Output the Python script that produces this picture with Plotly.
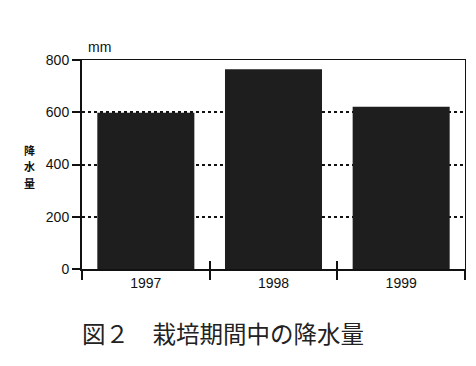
import plotly.graph_objects as go

years = ["1997", "1998", "1999"]
rain_mm = [598, 765, 621]
y_ticks = [0, 200, 400, 600, 800]
grid_vals = [200, 400, 600]
y_title_chars = ["降", "水", "量"]

W, H = 476, 366
L, R, T, B = 82, 11, 60, 97
PW, PH = W - L - R, H - T - B

fig = go.Figure()
fig.add_trace(go.Bar(x=years, y=rain_mm, marker=dict(color="#1e1e1e", line=dict(width=0)),
                     showlegend=False, hoverinfo="skip"))

font = dict(family="Liberation Sans, Arial, sans-serif", color="#111", size=14)

fig.update_layout(
    width=W, height=H, margin=dict(l=L, r=R, t=T, b=B),
    paper_bgcolor="white", plot_bgcolor="white", bargap=0.24,
    font=font,
    xaxis=dict(type="category", showline=True, linecolor="#111", linewidth=2,
               ticks="outside", ticklen=9, tickwidth=2, tickcolor="#111",
               tickson="boundaries", showgrid=False, tickfont=dict(size=14),
               range=[-0.5, 2.5]),
    xaxis2=dict(overlaying="x", side="top", showline=True, linecolor="#111", linewidth=1,
                showticklabels=False, ticks="", showgrid=False, range=[0, 1]),
    xaxis3=dict(type="category", overlaying="x", matches="x", side="bottom",
                showline=False, ticks="inside", ticklen=8, tickwidth=2, tickcolor="#111",
                tickson="boundaries", showticklabels=False, showgrid=False),
    yaxis=dict(range=[0, 800], tickvals=y_ticks, showline=True, linecolor="#111", linewidth=2,
               ticks="outside", ticklen=8, tickwidth=2, tickcolor="#111",
               showgrid=False, zeroline=False, tickfont=dict(size=14)),
    yaxis2=dict(overlaying="y", side="right", range=[0, 800], showline=True, linecolor="#111",
                linewidth=1, showticklabels=False, ticks="", showgrid=False, zeroline=False),
    yaxis3=dict(overlaying="y", range=[0, 800], tickvals=grid_vals, showticklabels=False,
                ticks="", showgrid=True, gridcolor="#111", gridwidth=2, griddash="dot",
                zeroline=False, showline=False, layer="below traces"),
)
# invisible traces to activate overlay axes
fig.add_trace(go.Scatter(x=[0, 1], y=[0, 0], xaxis="x2", yaxis="y2", mode="markers",
                         marker=dict(opacity=0), showlegend=False, hoverinfo="skip"))
fig.add_trace(go.Scatter(x=years, y=[0, 0, 0], xaxis="x3", yaxis="y3", mode="markers",
                         marker=dict(opacity=0), showlegend=False, hoverinfo="skip"))

fig.add_annotation(text="mm", xref="paper", yref="paper", x=(86 - L) / PW, xanchor="left",
                   y=1 + (T - 47) / PH, yanchor="middle", showarrow=False,
                   font=dict(size=14))
for i, ch in enumerate(y_title_chars):
    fig.add_annotation(text="<b>" + ch + "</b>", xref="paper", yref="paper",
                       x=(22 - L) / PW, y=(H - B - (149.5 + 16.5 * i)) / PH,
                       yanchor="middle", showarrow=False,
                       font=dict(family="Noto Sans CJK JP", size=11))
fig.add_annotation(text="図２　栽培期間中の降水量", xref="paper", yref="paper",
                   x=(80 - L) / PW, xanchor="left",
                   y=-(333 - (H - B)) / PH, yanchor="middle", showarrow=False,
                   font=dict(family="Noto Sans CJK JP", size=23.5, color="#222"))

fig.write_html("out.html")
